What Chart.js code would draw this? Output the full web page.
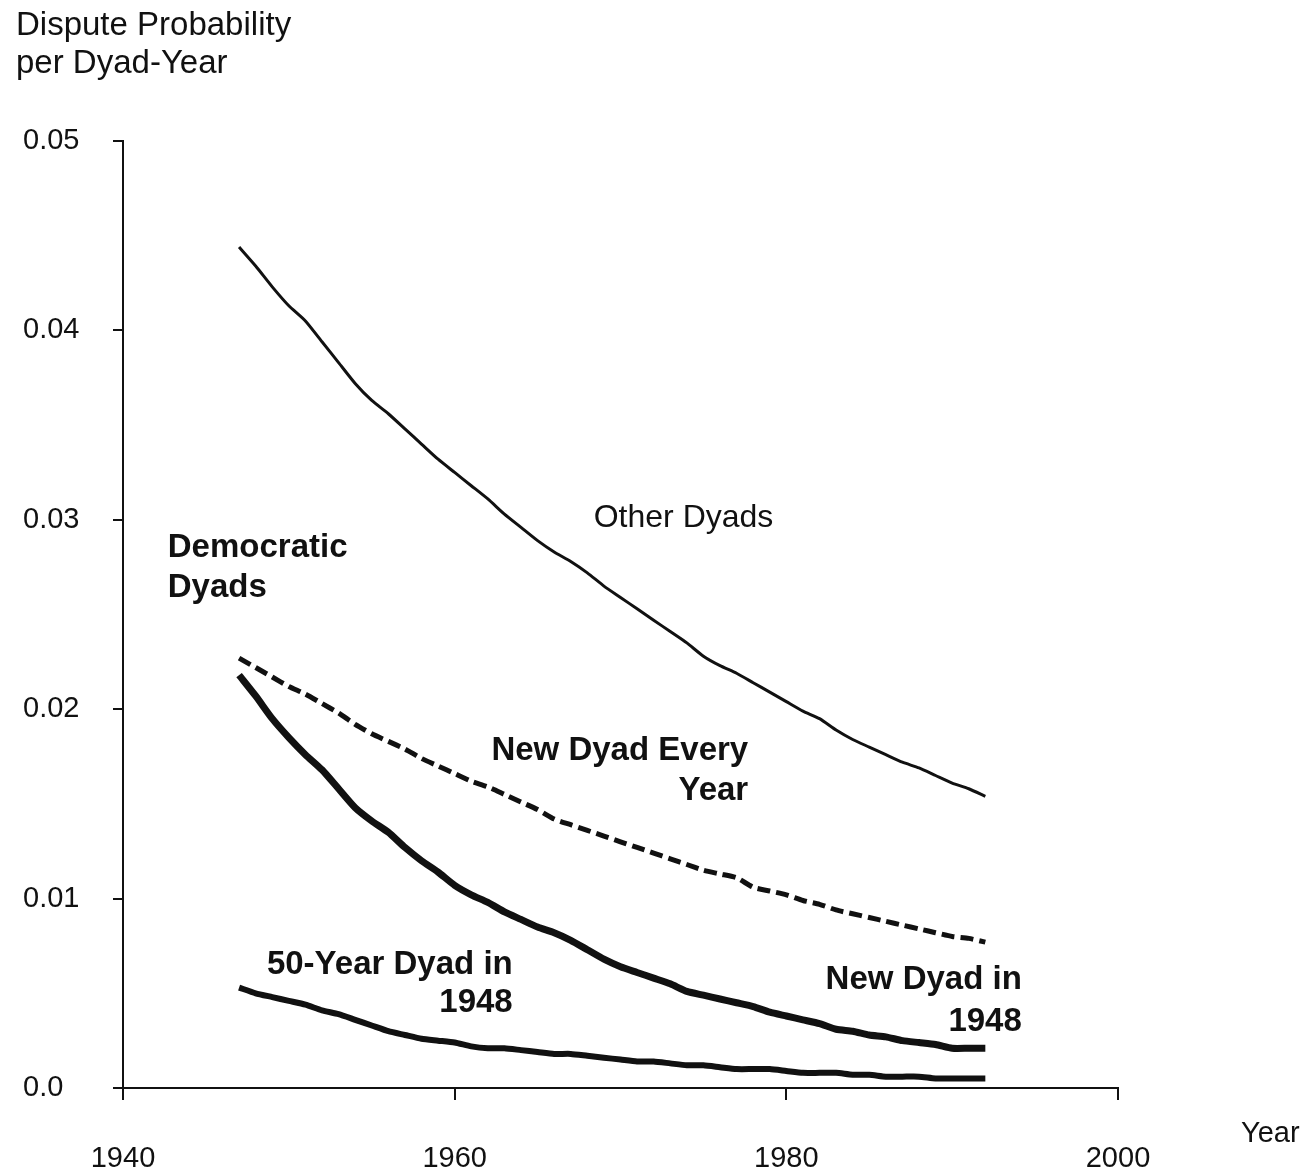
<!DOCTYPE html>
<html>
<head>
<meta charset="utf-8">
<script src="https://cdn.jsdelivr.net/npm/chart.js@4.4.1/dist/chart.umd.min.js"></script>
<style>
  html, body { margin: 0; padding: 0; background: #fff; }
  #wrap { width: 1310px; height: 1175px; }
</style>
</head>
<body>
<div id="wrap"><canvas id="dispute-chart"></canvas></div>
<script>
const years = [];
for (let y = 1947; y <= 1992; y++) years.push(y);

const otherDyads = [
  0.0444, 0.0434, 0.0423, 0.0413, 0.0405, 0.0394, 0.0383, 0.0372, 0.0363, 0.0356,
  0.0348, 0.0340, 0.0332, 0.0325, 0.0318, 0.0311, 0.0303, 0.0296, 0.0289, 0.0283,
  0.0278, 0.0272, 0.0265, 0.0259, 0.0253, 0.0247, 0.0241, 0.0235, 0.0228, 0.0223,
  0.0219, 0.0214, 0.0209, 0.0204, 0.0199, 0.0195, 0.0189, 0.0184, 0.0180, 0.0176,
  0.0172, 0.0169, 0.0165, 0.0161, 0.0158, 0.0154,
];
const newDyadEveryYear = [
  0.0227, 0.0222, 0.0217, 0.0212, 0.0208, 0.0203, 0.0198, 0.0192, 0.0187, 0.0183,
  0.0179, 0.0174, 0.0170, 0.0166, 0.0162, 0.0159, 0.0155, 0.0151, 0.0147, 0.0142,
  0.0139, 0.0136, 0.0133, 0.0130, 0.0127, 0.0124, 0.0121, 0.0118, 0.0115, 0.0113,
  0.0111, 0.0106, 0.0104, 0.0102, 0.0099, 0.0097, 0.0094, 0.0092, 0.0090, 0.0088,
  0.0086, 0.0084, 0.0082, 0.0080, 0.0079, 0.0077,
];
const newDyad1948 = [
  0.0218, 0.0207, 0.0195, 0.0185, 0.0176, 0.0168, 0.0158, 0.0148, 0.0141, 0.0135,
  0.0127, 0.0120, 0.0114, 0.0107, 0.0102, 0.0098, 0.0093, 0.0089, 0.0085, 0.0082,
  0.0078, 0.0073, 0.0068, 0.0064, 0.0061, 0.0058, 0.0055, 0.0051, 0.0049, 0.0047,
  0.0045, 0.0043, 0.0040, 0.0038, 0.0036, 0.0034, 0.0031, 0.0030, 0.0028, 0.0027,
  0.0025, 0.0024, 0.0023, 0.0021, 0.0021, 0.0021,
];
const fiftyYearDyad1948 = [
  0.0053, 0.0050, 0.0048, 0.0046, 0.0044, 0.0041, 0.0039, 0.0036, 0.0033, 0.0030,
  0.0028, 0.0026, 0.0025, 0.0024, 0.0022, 0.0021, 0.0021, 0.0020, 0.0019, 0.0018,
  0.0018, 0.0017, 0.0016, 0.0015, 0.0014, 0.0014, 0.0013, 0.0012, 0.0012, 0.0011,
  0.0010, 0.0010, 0.0010, 0.0009, 0.0008, 0.0008, 0.0008, 0.0007, 0.0007, 0.0006,
  0.0006, 0.0006, 0.0005, 0.0005, 0.0005, 0.0005,
];

const xTicks = [1940, 1960, 1980, 2000];
const yTicks = [0, 0.01, 0.02, 0.03, 0.04, 0.05];
const yTickLabels = ["0.0", "0.01", "0.02", "0.03", "0.04", "0.05"];

const FONT = '"Liberation Sans", Arial, Helvetica, sans-serif';
const INK = "#111";

function pts(values) {
  return values.map((v, i) => ({ x: years[i], y: v }));
}

// text labels, placed in data coordinates
const notes = [
  { text: "Other Dyads", x: 1973.8, y: 0.0301, align: "center", bold: false },
  { text: "Democratic", x: 1942.7, y: 0.0285, align: "left", bold: true },
  { text: "Dyads", x: 1942.7, y: 0.0264, align: "left", bold: true },
  { text: "New Dyad Every", x: 1977.7, y: 0.0178, align: "right", bold: true },
  { text: "Year", x: 1977.7, y: 0.0157, align: "right", bold: true },
  { text: "New Dyad in", x: 1994.2, y: 0.0057, align: "right", bold: true },
  { text: "1948", x: 1994.2, y: 0.0035, align: "right", bold: true },
  { text: "50-Year Dyad in", x: 1963.5, y: 0.0065, align: "right", bold: true },
  { text: "1948", x: 1963.5, y: 0.0045, align: "right", bold: true },
];

const textPlugin = {
  id: "texts",
  afterDraw(chart) {
    const { ctx, scales } = chart;
    ctx.save();
    ctx.fillStyle = INK;
    ctx.textBaseline = "middle";
    notes.forEach((n) => {
      ctx.font = (n.bold ? "bold 33px " : "32px ") + FONT;
      ctx.textAlign = n.align;
      ctx.fillText(n.text, scales.x.getPixelForValue(n.x), scales.y.getPixelForValue(n.y));
    });
    ctx.font = "33px " + FONT;
    ctx.textAlign = "left";
    ctx.fillText("Dispute Probability", 16, 26);
    ctx.fillText("per Dyad-Year", 16, 64);
    ctx.font = "29px " + FONT;
    ctx.fillText("Year", 1241, 1134);
    ctx.restore();
  },
};

new Chart(document.getElementById("dispute-chart"), {
  type: "line",
  data: {
    datasets: [
      {
        label: "Other Dyads",
        data: pts(otherDyads),
        borderColor: INK,
        borderWidth: 3,
      },
      {
        label: "New Dyad Every Year",
        data: pts(newDyadEveryYear),
        borderColor: INK,
        borderWidth: 5,
        borderDash: [13, 6],
      },
      {
        label: "New Dyad in 1948",
        data: pts(newDyad1948),
        borderColor: INK,
        borderWidth: 7,
      },
      {
        label: "50-Year Dyad in 1948",
        data: pts(fiftyYearDyad1948),
        borderColor: INK,
        borderWidth: 6,
      },
    ],
  },
  options: {
    responsive: true,
    maintainAspectRatio: false,
    animation: false,
    events: [],
    elements: {
      point: { radius: 0 },
      line: { tension: 0.2, borderCapStyle: "butt", borderJoinStyle: "round" },
    },
    layout: { padding: { left: 23, right: 192, top: 141, bottom: 0 } },
    plugins: {
      legend: { display: false },
      tooltip: { enabled: false },
    },
    scales: {
      x: {
        type: "linear",
        min: 1940,
        max: 2000,
        afterBuildTicks: (axis) => { axis.ticks = xTicks.map((v) => ({ value: v })); },
        afterFit: (axis) => { axis.height = 87; },
        border: { color: INK, width: 2 },
        grid: { drawOnChartArea: false, color: INK, lineWidth: 2, tickLength: 12 },
        ticks: {
          color: INK,
          font: { family: FONT, size: 29 },
          padding: 42,
          maxRotation: 0,
          callback: (v) => String(v),
        },
      },
      y: {
        min: 0,
        max: 0.05,
        afterBuildTicks: (axis) => { axis.ticks = yTicks.map((v) => ({ value: v })); },
        afterFit: (axis) => { axis.width = 100; },
        border: { color: INK, width: 2 },
        grid: { drawOnChartArea: false, color: INK, lineWidth: 2, tickLength: 10 },
        ticks: {
          color: INK,
          font: { family: FONT, size: 29 },
          crossAlign: "far",
          callback: (v) => {
            const i = yTicks.findIndex((t) => Math.abs(t - v) < 1e-9);
            return i >= 0 ? yTickLabels[i] : "";
          },
        },
      },
    },
  },
  plugins: [textPlugin],
});
</script>
</body>
</html>
